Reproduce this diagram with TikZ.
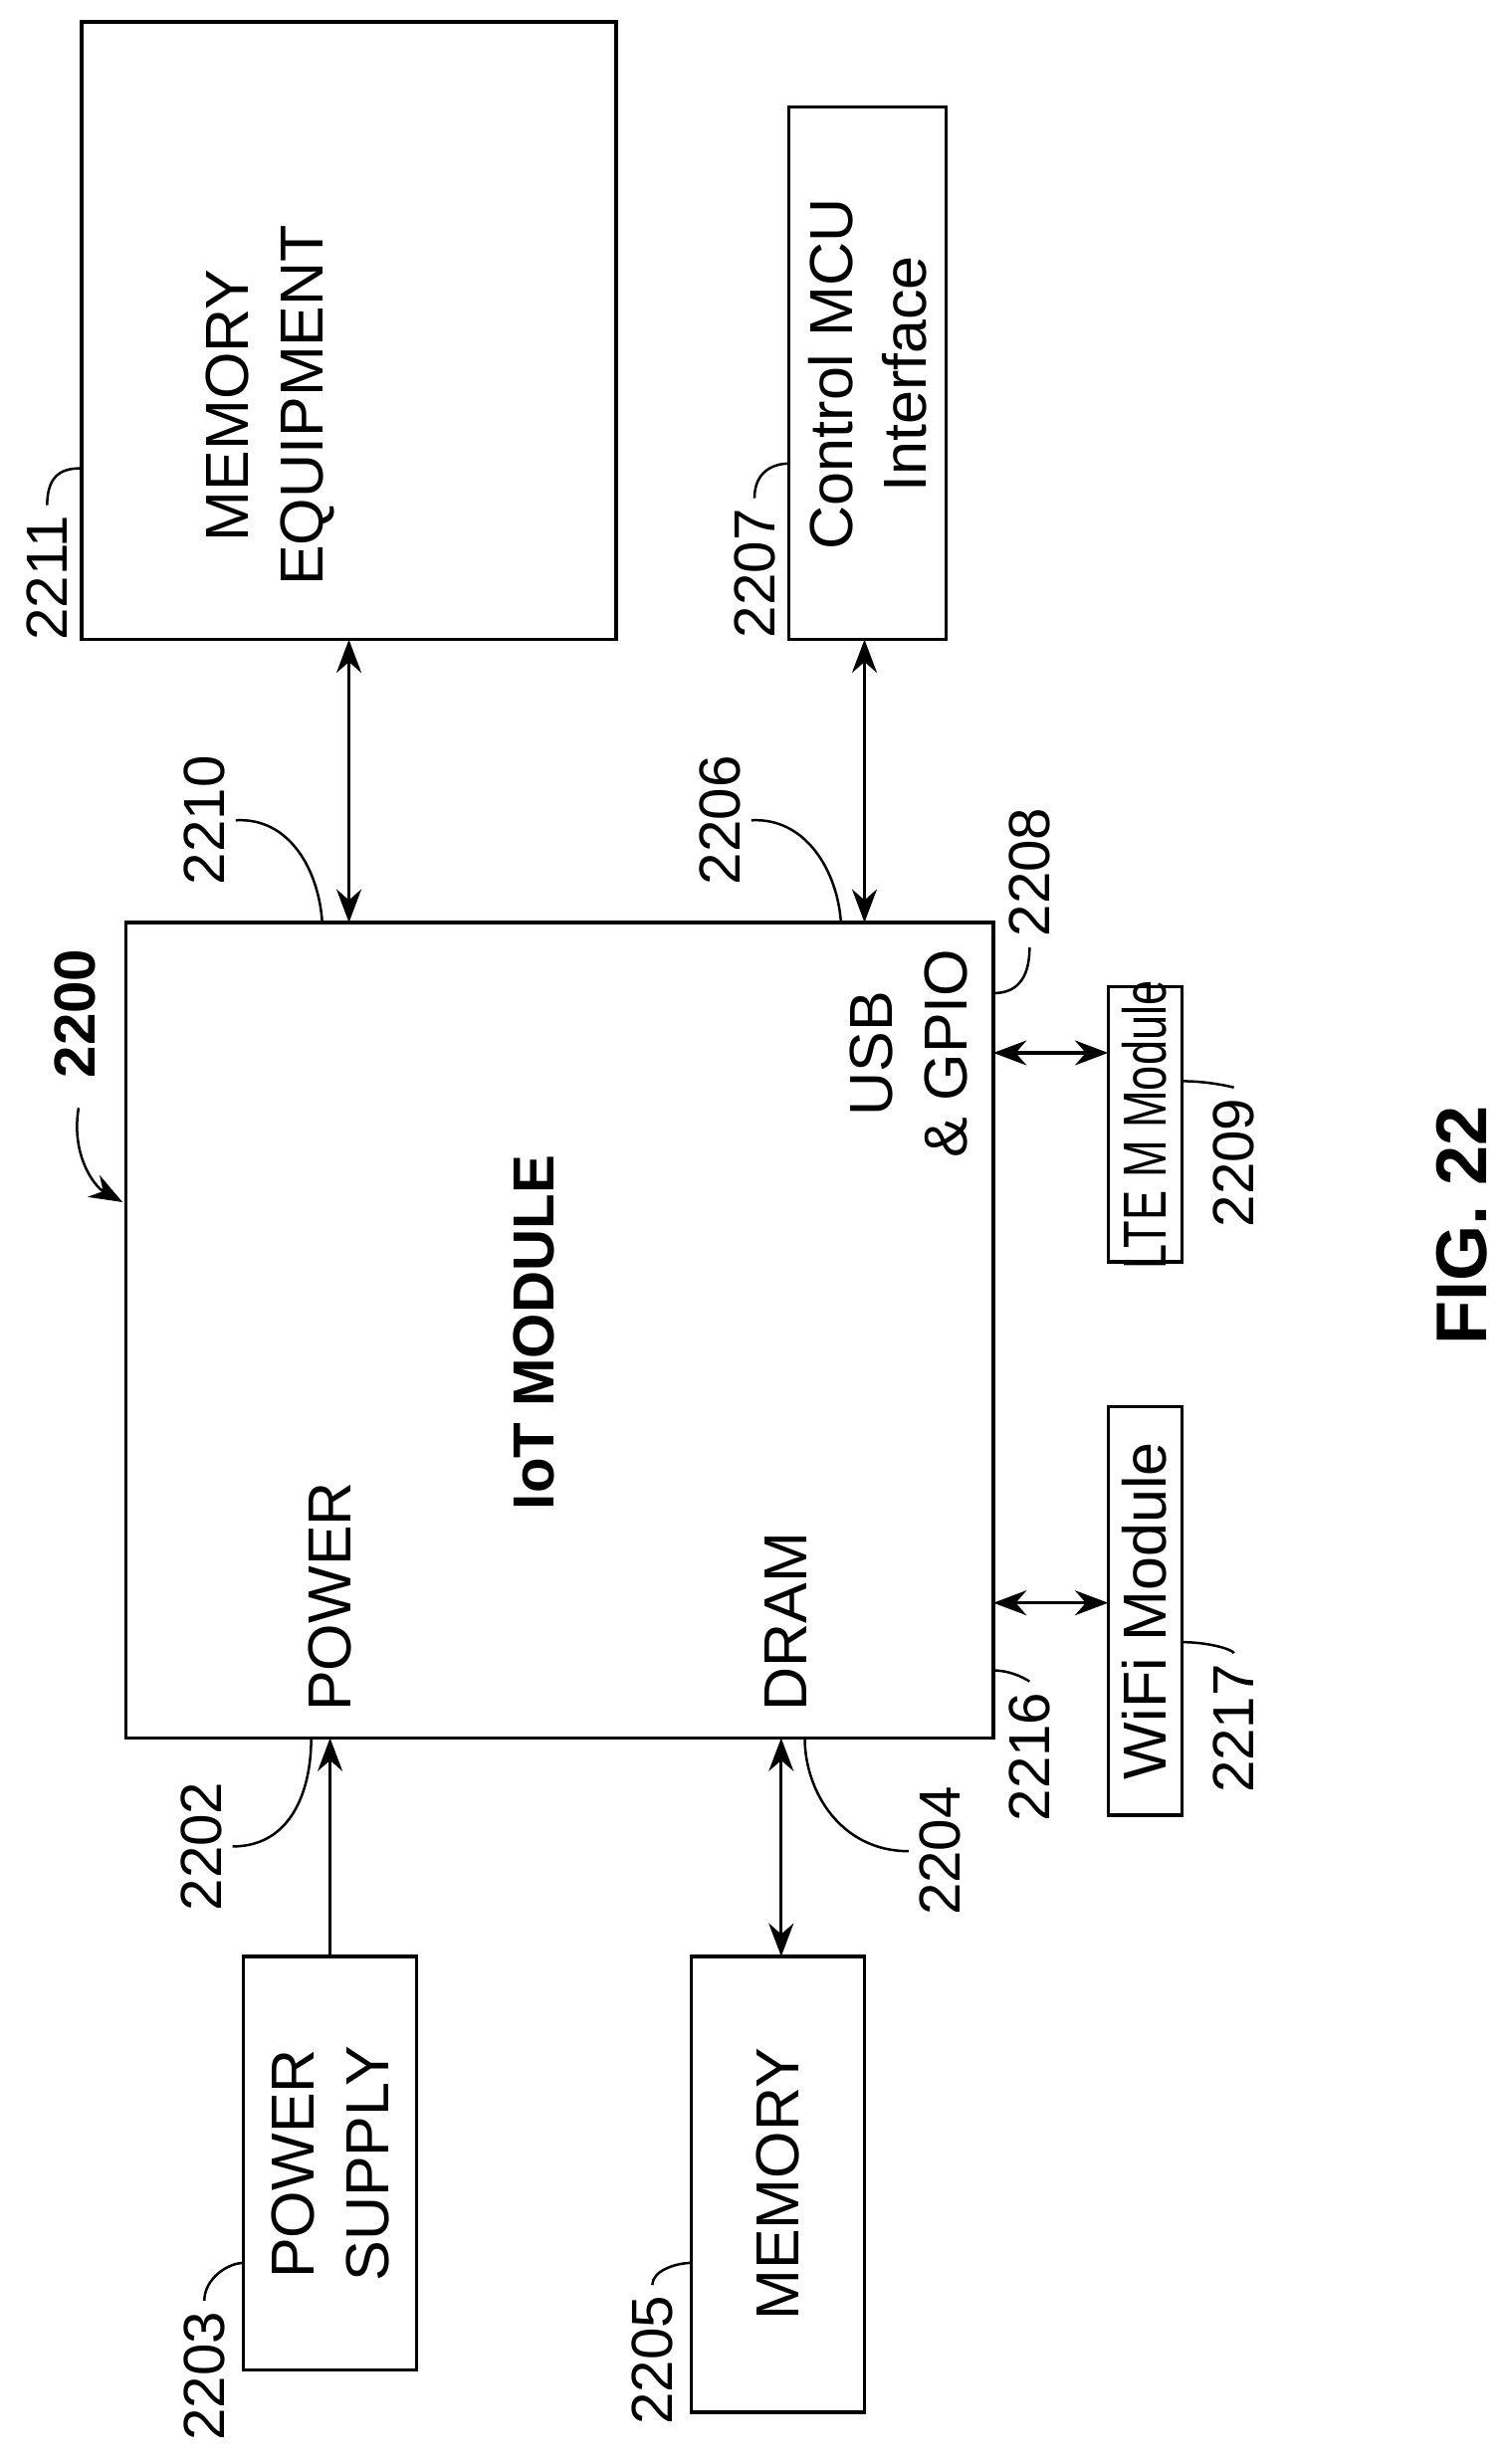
\documentclass[tikz,border=0pt]{standalone}
\usepackage{fontspec}
\setmainfont{Liberation Sans}
\usetikzlibrary{arrows.meta}
\begin{document}
\begin{tikzpicture}[x=0.02cm,y=-0.02cm,line width=1.2pt,
  box/.style={draw,rectangle},
  txt/.style={rotate=90,align=center,font=\fontsize{22}{27}\selectfont},
  ref/.style={rotate=90,font=\fontsize{21}{24}\selectfont},
  lead/.style={line width=0.9pt},
  arr/.style={-{Stealth[length=12pt,width=9pt]}},
  darr/.style={{Stealth[length=12pt,width=9pt]}-{Stealth[length=12pt,width=9pt]}}]
\useasboundingbox (0,0) rectangle (960,1568);

% boxes
\draw[box] (52,14) rectangle (392,407);
\node[txt](memeq) at (172,258) {MEMORY\\EQUIPMENT};
\draw[box] (502,68) rectangle (602,407);
\node[txt](mcu) at (552,238) {Control MCU\\Interface};
\draw[box] (80,587) rectangle (632,1106);
\node[txt,font=\fontsize{21}{26}\selectfont\bfseries](iot) at (340,848) {IoT MODULE};
\node[txt,anchor=west](pwr) at (210,1096) {POWER};
\node[txt,anchor=west](dram) at (500,1096) {DRAM};
\node[txt,anchor=east](usb) at (578,597) {USB\\\& GPIO};
\draw[box] (705,628) rectangle (752,803);
\node[txt,inner sep=1pt](lte) at (728,716) {\scalebox{0.74}[1]{LTE M Module}};
\draw[box] (705,895) rectangle (752,1155);
\node[txt](wifi) at (728,1025) {WiFi Module};
\draw[box] (155,1245) rectangle (265,1508);
\node[txt](psu) at (210,1377) {POWER\\SUPPLY};
\draw[box] (440,1245) rectangle (550,1535);
\node[txt](mem) at (495,1390) {MEMORY};

% connectors
\coordinate (a1) at (222,407); \coordinate (a2) at (222,587);
\draw[darr] (a1) -- (a2);
\coordinate (b1) at (550,407); \coordinate (b2) at (550,587);
\draw[darr] (b1) -- (b2);
\coordinate (c1) at (632,670); \coordinate (c2) at (705,670);
\draw[darr] (c1) -- (c2);
\coordinate (d1) at (632,1020); \coordinate (d2) at (705,1020);
\draw[darr] (d1) -- (d2);
\coordinate (e1) at (210,1245); \coordinate (e2) at (210,1106);
\draw[arr] (e1) -- (e2);
\coordinate (f1) at (497,1106); \coordinate (f2) at (497,1245);
\draw[darr] (f1) -- (f2);

% reference numerals
\node[ref](r2211) at (30,368) {2211};
\draw[lead] (r2211.east) .. controls (30,300) and (42,298) .. (52,298);
\node[ref](r2207) at (480,365) {2207};
\draw[lead] (r2207.east) .. controls (480,300) and (492,295) .. (502,295);
\node[ref](r2210) at (130,522) {2210};
\draw[lead] (r2210.south) .. controls (185,520) and (203,555) .. (205,587);
\node[ref](r2206) at (458,522) {2206};
\draw[lead] (r2206.south) .. controls (513,520) and (533,555) .. (535,587);
\node[ref,font=\fontsize{21}{24}\selectfont\bfseries](r2200) at (48,645) {2200};
\draw[arr,lead] (50,705) .. controls (45,735) and (60,755) .. (78,765);
\node[ref](r2208) at (655,555) {2208};
\draw[lead] (r2208.west) .. controls (655,625) and (645,632) .. (632,632);
\node[ref](r2209) at (785,740) {2209};
\draw[lead] (r2209.east) .. controls (785,692) and (770,688) .. (752,688);
\node[ref](r2216) at (655,1118) {2216};
\draw[lead] (r2216.east) .. controls (655,1070) and (645,1063) .. (632,1063);
\node[ref](r2217) at (785,1100) {2217};
\draw[lead] (r2217.east) .. controls (785,1050) and (770,1045) .. (752,1045);
\node[ref](r2202) at (128,1175) {2202};
\draw[lead] (r2202.south) .. controls (185,1175) and (198,1140) .. (198,1106);
\node[ref](r2204) at (598,1178) {2204};
\draw[lead] (r2204.north) .. controls (535,1178) and (512,1140) .. (512,1106);
\node[ref](r2203) at (130,1512) {2203};
\draw[lead] (r2203.east) .. controls (130,1450) and (145,1440) .. (155,1440);
\node[ref](r2205) at (415,1502) {2205};
\draw[lead] (r2205.east) .. controls (415,1445) and (430,1440) .. (440,1440);

\node[ref,font=\fontsize{26}{30}\selectfont\bfseries](fig) at (930,780) {FIG. 22};
\end{tikzpicture}
\end{document}
